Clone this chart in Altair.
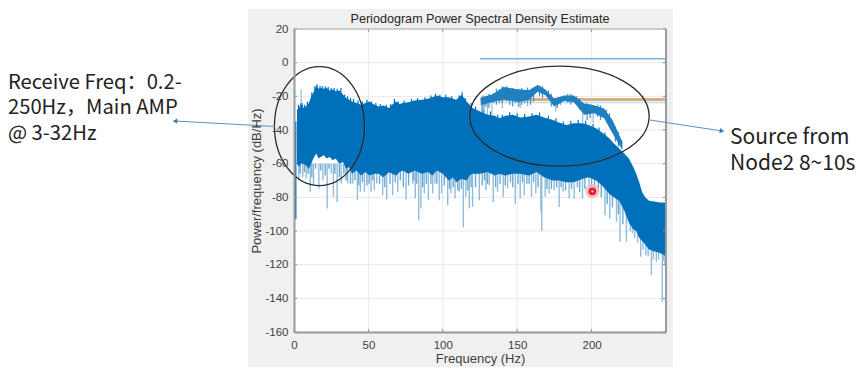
import altair as alt
import pandas as pd

# main band: frequency, upper envelope, solid lower edge
band_hz = [2,3.5,4.5,6,8,10,11.6,13,15,16.5,18,20,22,24,26,28,30.5,33,35,37,39,42,45,48,50.7,54,57,60,64,66,68.6,71,73,77,81,86,90,93,96,100,104,107,109,112.6,116,118,120,125,130,135,138,142,147,152,158,163,168,174,178,183,188,194,198,203,207,212,215,218.5,222,225,228,230,232,234,236,238.6,242,246,250]
band_top = [-28,-27,-24,-27,-26,-24,-20,-18,-13.5,-15.5,-15,-15.5,-15,-16.5,-16,-17,-16.5,-19,-21,-22,-23,-24,-25,-24,-23,-25,-26,-25.5,-27,-25,-23,-24.5,-24,-23.5,-22.5,-22,-21.5,-20.5,-19.5,-20.5,-20.5,-21.5,-22,-19,-23,-25,-27,-29,-31,-31.5,-33,-31.5,-31,-32.5,-32,-31,-32.5,-34,-35.5,-37,-36,-36,-37,-39,-41.5,-45,-48,-51,-54,-57,-62,-66,-71,-77,-80,-82,-82.5,-83,-83]
band_low = [-60,-62,-60,-60,-61,-63,-60,-57,-54,-57,-56,-55,-57,-56,-58,-57,-60,-59,-63,-62,-66,-64,-67,-65,-67,-66,-66,-68,-65,-66,-67,-65,-64,-66,-64,-66,-65,-67,-64,-66,-70,-68,-71,-69,-70,-67,-66,-66,-65,-67,-66,-67,-66,-66,-67,-65,-68,-70,-70,-71,-71,-69,-68,-70,-73,-78,-80,-82,-88,-95,-99,-100,-104,-106,-108,-111,-112,-113,-115]

# small peaks along the band's upper edge
top_hz = [3,5.5,7,9,12,14,15.5,17.5,19,21,23,25,27,29,31.5,34,36,38,40,43,46,49,52,55,58,62,65,67.5,70,74,79,83,88,92,95,98,102,106,111,113,115,119,122,127,132,137,140,145,150,155,160,165,171,176,181,186,191,196,201,205,209]
top_db = [-25,-24,-25,-23,-17.5,-14,-12.8,-13.8,-14,-14,-14.5,-15,-15,-15.5,-15,-19,-20,-21,-21.5,-22.5,-23,-22,-23,-24,-24.5,-25,-24.5,-21.5,-23,-22.5,-21.5,-21,-20.5,-19.5,-18.5,-19,-19,-20,-19.5,-17.5,-21,-24,-26,-28,-29,-31,-31,-29.5,-30,-30.5,-30,-29.5,-31.5,-33,-35,-34.5,-34,-34.5,-36.5,-38.5,-41.5]

# downward spikes below the band
spike_hz = [3.2,5.9,8.2,10.9,13.1,16.7,19.4,22.3,25,26.5,29,31.7,36.1,39.5,42.6,44.6,47.3,51.8,54,55.6,59.6,62.3,66.3,69.7,75.3,79.7,81.5,83.8,85.3,87.6,90.3,93.2,94.7,97.6,99.2,103.3,105.5,108.2,111.1,113.8,115.5,117.8,120,124.5,129,131.2,133.9,136.8,140.6,143.5,148.7,152,154.7,159.6,162.5,165.9,166.5,168.8,171.5,174.8,178.2,180.9,184.9,188.3,193.9,198.3,209,212.2,216.7,219.1,223.4]
spike_db = [-69.8,-67.8,-68.8,-76.7,-72.8,-74.8,-69.8,-86.6,-65.9,-79.7,-82.7,-71.8,-71.8,-71.8,-81.7,-76.7,-76.7,-76.7,-75.8,-71.8,-78.7,-81.3,-78.7,-76.7,-81.3,-71.8,-80.7,-93.6,-86.6,-77.7,-81.7,-77.7,-71.8,-81.7,-77.7,-84.7,-77.7,-80.7,-76.7,-97.9,-79.7,-86.6,-85.7,-81.7,-75.8,-72.8,-82.7,-76.7,-79.7,-74.8,-83.7,-80.7,-78.7,-79.7,-77.7,-88.6,-99.9,-79.7,-77.7,-75.8,-85.7,-76.7,-80.7,-80.7,-80.7,-73.8,-90.6,-92.6,-94.6,-106.4,-106.4]
short_hz = [4.2,7,9.5,12,14.5,18,21,23.5,27.5,30.5,33.5,35,38,41,43.5,46,49,50.5,53,57.5,61,64.5,68,71.5,73.5,77,80.5,82.5,86.5,89,92,96,101,104.5,107,110,112.5,116.8,119,122,126.5,128,130,135.5,138.5,142,145.5,147,150.5,153.5,156.5,158,161,164,170,173,176.5,179.5,182.5,186.5,190.5,192,195.5,200,202,204.5,206.5,210.5,214,218,221]
short_db = [-66,-65,-66,-68,-63,-64,-67,-63,-66,-68,-66,-70,-72,-70,-73,-71,-73,-72,-70,-72,-74,-72,-71,-70,-74,-73,-70,-72,-74,-72,-72,-72,-73,-75,-74,-76,-75,-76,-74,-74,-73,-70,-72,-74,-72,-73,-71,-74,-72,-71,-72,-72,-71,-74,-75,-75,-74,-74,-76,-75,-74,-77,-75,-74,-75,-77,-80,-84,-86,-90,-96]
tail_hz = [227.4,233,236.4,240.2,243.5,247.5,249.3,226,229,231,234.5,238,241.5,245,248.5]
tail_db = [-101.5,-115.3,-114.4,-126.2,-118.3,-142.1,-120.3,-100,-104,-107,-111,-115,-117,-117,-118]

# second lobe above the band
lobe_hz = [125.6,133.4,141,151.3,158,163.7,169,174.8,181.5,188,195,201.7,208.4,214,220.7]
lobe_top = [-20.7,-18.7,-14.4,-16,-16.3,-13.2,-15.9,-21.3,-19.5,-19.5,-24.3,-25.3,-27.2,-34,-47]
lobe_low = [-25.3,-23.3,-21.9,-23.3,-22,-17.3,-19.3,-26,-22.7,-23.3,-31,-30,-33,-42,-52]
# fine strokes on the lobe
lobe2_hz = [127,129,131,134,136,138,140,143,145,147,149,151,153,155,157,159,161,165,167,171,173,177,179,184,186,190,192,197,199,204,206,210,212,216,218]
lobe2_a = [-19.5,-20,-18.5,-18,-15.5,-16,-14,-14,-16.5,-15,-16,-15.5,-15,-17,-14.8,-17,-15,-13.5,-14,-16.5,-18.5,-22,-20.5,-18.5,-18.5,-20,-21,-24,-24.5,-25,-25.5,-28,-30,-38,-41]
lobe2_b = [-28,-26,-27,-24,-25,-24,-24,-23,-25,-26,-24,-26,-25,-24,-24,-25,-23,-20,-21,-21,-26,-27,-25,-24,-25,-25,-28,-34,-33,-32,-34,-35,-38,-47,-50]

# light upward strokes
up_hz = [4.8,126,128,130,133,140,152,157,176,194,201]
up_a = [-28,-22,-22,-22,-22,-22,-22,-22,-24,-30,-30]
up_b = [-16,-34,-35,-33,-34,-27,-27,-26,-29,-36,-36]

x_ticks = [0,50,100,150,200]
y_ticks = [-160,-140,-120,-100,-80,-60,-40,-20,0,20]

BLUE = "#0070BB"
LIGHT = "#8dbcdc"
FONT = "Liberation Sans"
CJK = "Noto Sans CJK SC"

xs = alt.Scale(domain=[0,250], nice=False)
ys = alt.Scale(domain=[-160,20], nice=False)
X = alt.X("hz:Q", scale=xs, title="Frequency (Hz)",
          axis=alt.Axis(values=x_ticks, grid=False, domainColor="#9a9a9a", domainWidth=2,
                        ticks=False, labelFont=FONT, labelFontSize=11.5, labelColor="#404040", labelPadding=7,
                        titleFont=FONT, titleFontSize=13, titleFontWeight="normal", titleColor="#404040",
                        titlePadding=2, zindex=1, labelFlush=False, labelOverlap=False))
Y = alt.Y("db:Q", scale=ys, title="Power/frequency (dB/Hz)",
          axis=alt.Axis(values=y_ticks, grid=False, domainColor="#9a9a9a", domainWidth=2,
                        ticks=False, labelFont=FONT, labelFontSize=11.5, labelColor="#404040", labelPadding=6,
                        titleFont=FONT, titleFontSize=13, titleFontWeight="normal", titleColor="#404040",
                        titlePadding=1, zindex=1, labelOverlap=False,
                        labelExpr="datum.value < 0 ? '-' + abs(datum.value) : '' + datum.value"))
XN = X
YN = Y

one = pd.DataFrame({"a":[0]})
layers = []

# grey figure surround
for a,b,c,d in [(-46,0,-20,342),(372,379,-20,342),(0,372,-20,0),(0,372,303,342)]:
    layers.append(alt.Chart(one).mark_rect(color="#f0f0f0").encode(
        x=alt.value(a),x2=alt.value(b),y=alt.value(c),y2=alt.value(d)))

# grid, under every data mark
yt = pd.DataFrame({"db":y_ticks}); xt = pd.DataFrame({"hz":x_ticks})
layers.append(alt.Chart(yt).mark_rule(color="#e9e9e9").encode(y=YN,x=alt.value(0),x2=alt.value(372)))
layers.append(alt.Chart(xt).mark_rule(color="#e9e9e9").encode(x=XN,y=alt.value(0),y2=alt.value(303)))

band = pd.DataFrame({"hz":band_hz,"db":band_top,"low":band_low})
spikes = pd.DataFrame({"hz":spike_hz,"db":spike_db,"base":[-60]*len(spike_hz)})
shorts = pd.DataFrame({"hz":short_hz,"db":short_db,"base":[-60]*len(short_hz)})
tails = pd.DataFrame({"hz":tail_hz,"db":tail_db,"base":[-85]*len(tail_hz)})
tops = pd.DataFrame({"hz":top_hz,"db":top_db,"base":[-45]*len(top_hz)})

layers.append(alt.Chart(spikes).mark_rule(color=LIGHT,strokeWidth=1.4).encode(x=X,y=Y,y2="base:Q"))
layers.append(alt.Chart(shorts).mark_rule(color="#6aa8d4",strokeWidth=1.4).encode(x=XN,y=YN,y2="base:Q"))
layers.append(alt.Chart(tails).mark_rule(color=LIGHT,strokeWidth=1.4).encode(x=XN,y=YN,y2="base:Q"))
layers.append(alt.Chart(pd.DataFrame({"hz":up_hz,"db":up_a,"b":up_b})).mark_rule(color=LIGHT,strokeWidth=1.2).encode(
    x=XN,y=YN,y2="b:Q"))
layers.append(alt.Chart(tops).mark_rule(color=BLUE,strokeWidth=1.2).encode(x=XN,y=YN,y2="base:Q"))
layers.append(alt.Chart(band).mark_area(color=BLUE,opacity=1).encode(x=XN,y=YN,y2="low:Q"))
layers.append(alt.Chart(pd.DataFrame({"hz":[0.8],"db":[-35],"b":[-93]})).mark_rule(color=BLUE,strokeWidth=2.5).encode(
    x=XN,y=YN,y2="b:Q"))

# horizontal traces
for lev,col,w in [(2.4,"#7fb2d8",1.5),(-23.7,"#bcdcf0",1.5),(-21.9,"#dcae78",3)]:
    layers.append(alt.Chart(pd.DataFrame({"hz":[125],"e":[250],"db":[lev]})).mark_rule(color=col,strokeWidth=w).encode(
        x=XN,x2="e:Q",y=YN))
layers.append(alt.Chart(pd.DataFrame({"hz":lobe2_hz,"db":lobe2_a,"b":lobe2_b})).mark_rule(color="#3f93cc",strokeWidth=1.2).encode(
    x=XN,y=YN,y2="b:Q"))
layers.append(alt.Chart(pd.DataFrame({"hz":lobe_hz,"db":lobe_top,"low":lobe_low})).mark_area(color="#1f7fc0").encode(
    x=XN,y=YN,y2="low:Q"))

# inward ticks on the box
for a,b in [(0,3),(369,372)]:
    layers.append(alt.Chart(yt).mark_rule(color="#8c8c8c").encode(y=YN,x=alt.value(a),x2=alt.value(b)))
for a,b in [(0,3),(300,303)]:
    layers.append(alt.Chart(xt).mark_rule(color="#8c8c8c").encode(x=XN,y=alt.value(a),y2=alt.value(b)))
layers.append(alt.Chart(one).mark_rule(color="#9a9a9a",strokeWidth=2).encode(x=alt.value(372),y=alt.value(0),y2=alt.value(303)))
layers.append(alt.Chart(one).mark_rule(color="#a8a8a8",strokeWidth=1).encode(x=alt.value(0),x2=alt.value(372),y=alt.value(0)))

# ellipses
def ell(hz,db,rx,ry):
    a,b = rx/10,ry/10
    p = f"M {-a} 0 A {a} {b} 0 1 0 {a} 0 A {a} {b} 0 1 0 {-a} 0 Z"
    return alt.Chart(pd.DataFrame({"hz":[hz],"db":[db]})).mark_point(
        shape=p,size=400,filled=False,stroke="#2b2b2b",strokeWidth=1.3,opacity=1).encode(x=XN,y=YN)
layers.append(ell(17.1,-37.7,45,59.5))
layers.append(ell(178.4,-31.8,89.7,50))

# red click marker
red = pd.DataFrame({"hz":[200.5],"db":[-76.4]})
for sz,col,op in [(200,"#f7b4b4",0.8),(60,"#e8212f",1),(5,"#f8c8c8",1)]:
    layers.append(alt.Chart(red).mark_point(filled=True,size=sz,color=col,opacity=op,shape="circle").encode(x=XN,y=YN))

# arrows
ARR = "#5b93bf"
def arrow(x1,y1,x2,y2,ang):
    return [
        alt.Chart(one).mark_rule(color=ARR,strokeWidth=1).encode(x=alt.value(x1),y=alt.value(y1),x2=alt.value(x2),y2=alt.value(y2)),
        alt.Chart(one).mark_point(shape="triangle-up",filled=True,size=28,color="#2f7fbd",angle=ang,opacity=1).encode(x=alt.value(x2),y=alt.value(y2)),
    ]
layers += arrow(-19,97.5,-119,92,273)
layers += arrow(356,91,428,102,98)

# texts
def txt(s,x,y,size,font,color,align="left",baseline="alphabetic"):
    return alt.Chart(one).mark_text(text=s,fontSize=size,font=font,color=color,align=align,baseline=baseline).encode(
        x=alt.value(x),y=alt.value(y))
layers.append(txt("Periodogram Power Spectral Density Estimate",186,-6,12.6,FONT,"#262626","center"))
for s,py in [("Receive Freq：0.2-",89),("250Hz，Main AMP",114),("@ 3-32Hz",140)]:
    layers.append(txt(s,-286,py-29,20.2,CJK,"#222222"))
for s,py in [("Source from",144),("Node2 8~10s",170)]:
    layers.append(txt(s,436,py-29,21,CJK,"#222222"))

chart = alt.layer(*layers).properties(
    width=372,height=303,
    padding={"left":286,"top":21,"right":190,"bottom":35},
    autosize=alt.AutoSizeParams(type="none"),
    background="white",
).configure_view(stroke=None)

chart.save("out.html", embed_options={"renderer":"svg","actions":False})
